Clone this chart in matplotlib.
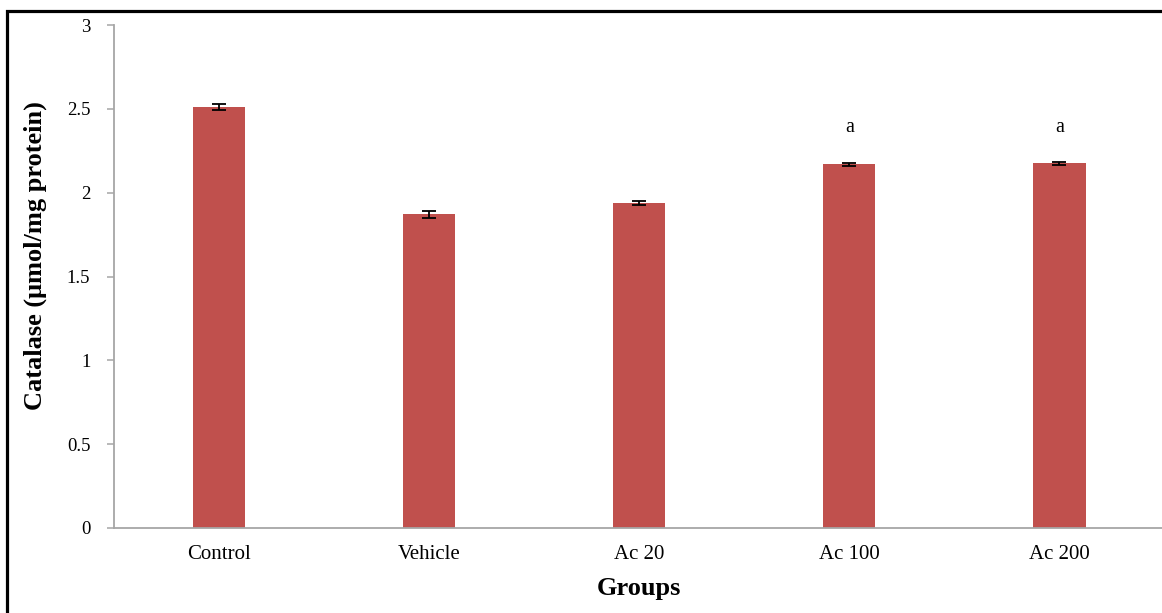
import numpy as np
import matplotlib
matplotlib.use("Agg")
from matplotlib import pyplot as plt
from matplotlib.patches import Rectangle

# dane
grupy = ["Control", "Vehicle", "Ac 20", "Ac 100", "Ac 200"]
katalaza = [2.512, 1.870, 1.938, 2.170, 2.176]
bledy = [0.017, 0.019, 0.013, 0.009, 0.009]
oznaczenia = ["", "", "", "a", "a"]
poziom_oznaczen = 2.39

plt.rcParams['font.family'] = ['Liberation Serif', 'DejaVu Serif']

fig = plt.figure(figsize=(11.62, 6.13), dpi=100)
ax = fig.add_axes([114 / 1162, 1 - 528 / 613, 1 - 114 / 1162 + 0.002, (528 - 25) / 613])

x = np.arange(len(grupy))
ax.bar(x, katalaza, width=0.25, color="#C0504D", zorder=2)
ax.errorbar(x, katalaza, yerr=bledy, fmt="none", ecolor="black",
            elinewidth=1.3, capsize=5, capthick=1.3, zorder=3)
for xi, t in zip(x, oznaczenia):
    if t:
        ax.text(xi, poziom_oznaczen, t, ha="center", va="center", fontsize=14.5)

ax.set_xlim(-0.5, len(grupy) - 0.5)
ax.set_ylim(0, 3)
ax.set_yticks([0, 0.5, 1, 1.5, 2, 2.5, 3])
ax.set_yticklabels(["0", "0.5", "1", "1.5", "2", "2.5", "3"])
ax.set_xticks(x)
ax.set_xticklabels(grupy)

for s in ["top", "right"]:
    ax.spines[s].set_visible(False)
for s in ["left", "bottom"]:
    ax.spines[s].set_color("#A6A6A6")
    ax.spines[s].set_linewidth(1.3)
ax.tick_params(axis="y", length=5, width=1.1, color="#A6A6A6", pad=12, labelsize=13.5)
ax.tick_params(axis="x", length=0, pad=12, labelsize=15)

fig.text(35 / 1162, 1 - 256 / 613, "Catalase (\u03bcmol/mg protein)", rotation=90,
         ha="center", va="center", fontsize=19, fontweight="bold")
fig.text(639 / 1162, 1 - 589 / 613, "Groups", ha="center", va="center",
         fontsize=19, fontweight="bold")

# ramka
fig.patches.append(Rectangle((7 / 1162, -0.05), 1.1, 1 - 11 / 613 + 0.05,
                             transform=fig.transFigure, fill=False,
                             edgecolor="black", linewidth=2.3))

fig.savefig("out.png", dpi=100)
